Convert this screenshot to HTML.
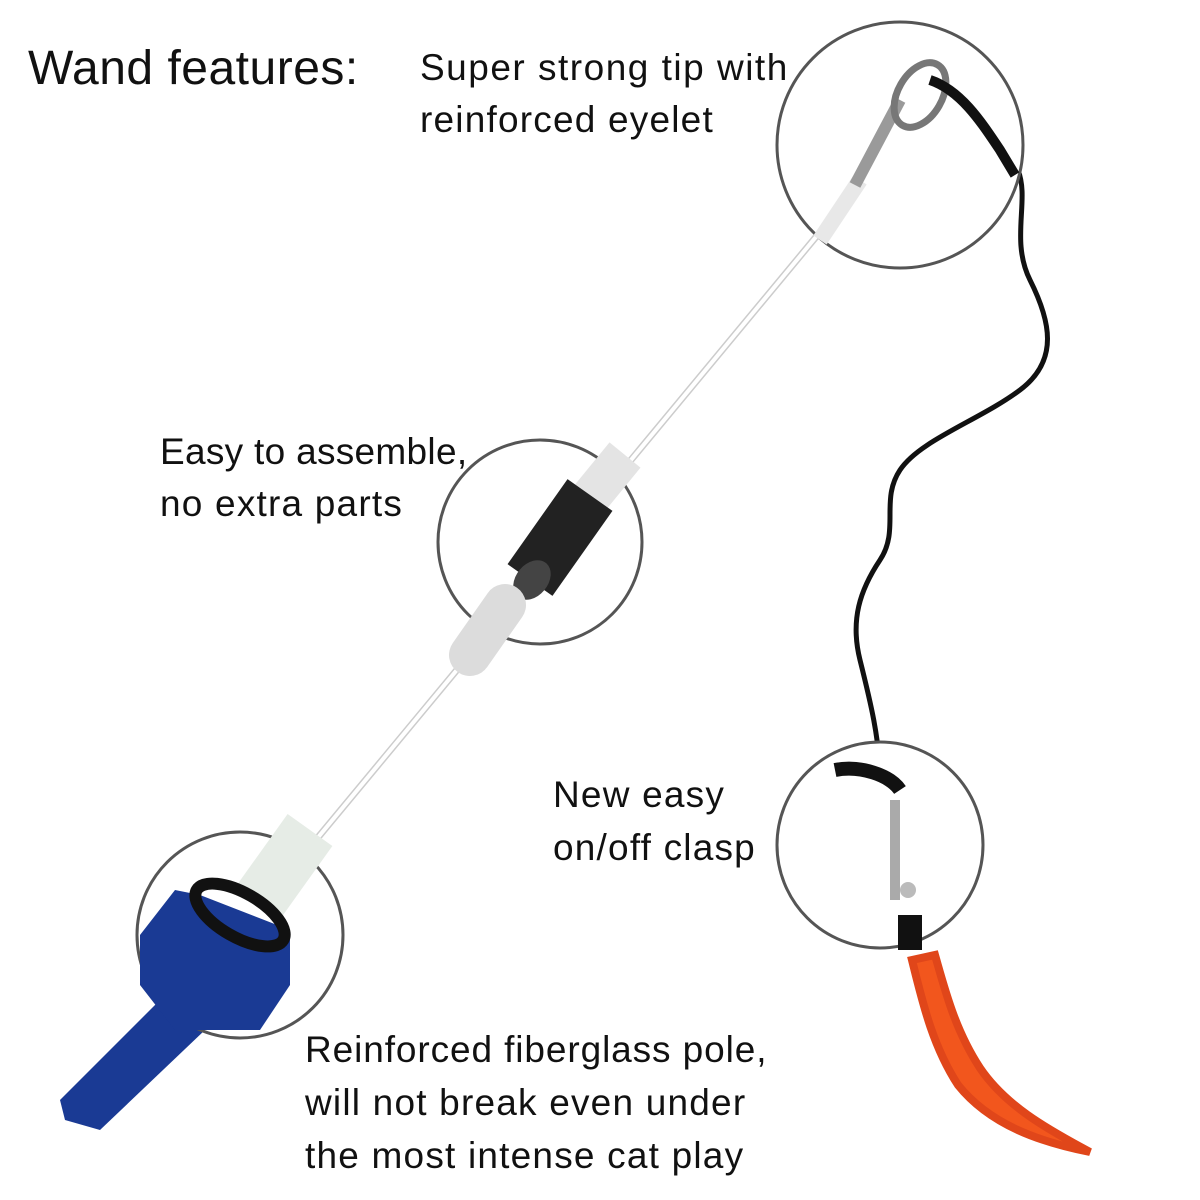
<!DOCTYPE html>
<html><head><meta charset="utf-8"><style>
html,body{margin:0;padding:0;background:#fff;}
svg{display:block;}
text{font-family:"Liberation Sans",sans-serif;fill:#111;}
</style></head><body>
<svg width="1200" height="1200" viewBox="0 0 1200 1200" xmlns="http://www.w3.org/2000/svg">
<rect width="1200" height="1200" fill="#fff"/>
<path d="M1018,170 C1030,200 1010,240 1030,280 C1050,320 1060,360 1020,390 C980,420 920,440 900,470 C880,500 900,530 880,560 C860,590 850,620 860,660 C870,700 880,740 880,780" fill="none" stroke="#111" stroke-width="5"/>
<line x1="150" y1="1040" x2="830" y2="220" stroke="#ccc" stroke-width="7"/>
<line x1="150" y1="1040" x2="830" y2="220" stroke="#fff" stroke-width="4"/>
<path d="M160,1000 L205,1030 L100,1130 L65,1120 L60,1100 Z" fill="#1a3a94"/>
<path d="M912,960 C922,1000 932,1045 958,1085 C990,1125 1040,1142 1090,1152 C1045,1128 1005,1105 980,1068 C955,1030 945,990 935,955 Z" fill="#f2561d" stroke="#e0461a" stroke-width="8"/>
<circle cx="900" cy="145" r="123" fill="#fff" stroke="#555" stroke-width="3"/>
<path d="M820,240 L860,180" stroke="#e8e8e8" stroke-width="16"/>
<path d="M855,185 L900,100" stroke="#9a9a9a" stroke-width="12"/>
<ellipse cx="920" cy="95" rx="22" ry="35" fill="none" stroke="#777" stroke-width="7" transform="rotate(30 920 95)"/>
<path d="M930,80 C960,90 980,120 1000,150 L1015,175" stroke="#111" stroke-width="10" fill="none"/>
<circle cx="540" cy="542" r="102" fill="#fff" stroke="#555" stroke-width="3"/>
<path d="M625,455 L580,510" stroke="#e4e4e4" stroke-width="40"/>
<path d="M590,495 L530,580" stroke="#222" stroke-width="55"/>
<ellipse cx="532" cy="580" rx="22" ry="16" fill="#444" transform="rotate(-50 532 580)"/>
<path d="M505,605 L470,655" stroke="#dcdcdc" stroke-width="42" stroke-linecap="round"/>
<circle cx="240" cy="935" r="103" fill="#fff" stroke="#555" stroke-width="3"/>
<path d="M310,830 L260,900" stroke="#e6ece6" stroke-width="55"/>
<path d="M140,935 L175,890 L200,895 L290,930 L290,985 L260,1030 L175,1030 L140,985 Z" fill="#1a3a94"/>
<ellipse cx="240" cy="915" rx="50" ry="22" fill="none" stroke="#111" stroke-width="12" transform="rotate(30 240 915)"/>
<circle cx="880" cy="845" r="103" fill="#fff" stroke="#555" stroke-width="3"/>
<path d="M835,770 C860,765 890,775 900,790" stroke="#111" stroke-width="14" fill="none"/>
<path d="M895,800 L895,900" stroke="#aaa" stroke-width="10"/>
<circle cx="908" cy="890" r="8" fill="#bbb"/>
<rect x="898" y="915" width="24" height="35" fill="#111"/>
<text x="28" y="84" font-size="48" letter-spacing="0.5">Wand features:</text>
<g font-size="37" letter-spacing="1.2">
<text x="420" y="80" letter-spacing="1.5">Super strong tip with</text>
<text x="420" y="132">reinforced eyelet</text>
<text x="160" y="464" letter-spacing="0.3">Easy to assemble,</text>
<text x="160" y="516">no extra parts</text>
<text x="553" y="807">New easy</text>
<text x="553" y="860">on/off clasp</text>
<text x="305" y="1062" letter-spacing="0.9">Reinforced fiberglass pole,</text>
<text x="305" y="1115">will not break even under</text>
<text x="305" y="1168">the most intense cat play</text>
</g>
</svg>
</body></html>
